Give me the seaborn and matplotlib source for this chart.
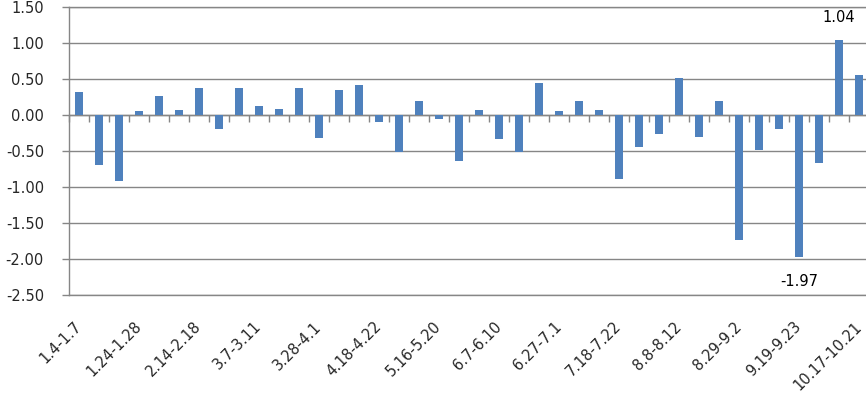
import matplotlib
matplotlib.use("Agg")
import matplotlib.pyplot as plt
import numpy as np
import pandas as pd
import seaborn as sns
from matplotlib.ticker import FormatStrFormatter

# weekly values (40 weeks)
values = [
    0.32, -0.70, -0.92, 0.05, 0.27, 0.07, 0.37, -0.19, 0.37, 0.12,
    0.09, 0.37, -0.32, 0.35, 0.42, -0.10, -0.52, 0.19, -0.05, -0.64,
    0.07, -0.34, -0.52, 0.44, 0.06, 0.19, 0.07, -0.89, -0.45, -0.27,
    0.52, -0.30, 0.20, -1.73, -0.48, -0.19, -1.97, -0.66, 1.04, 0.56,
]
# only every third week carries a label in the reference
tick_pos = [0, 3, 6, 9, 12, 15, 18, 21, 24, 27, 30, 33, 36, 39]
tick_labels = [
    "1.4-1.7", "1.24-1.28", "2.14-2.18", "3.7-3.11", "3.28-4.1",
    "4.18-4.22", "5.16-5.20", "6.7-6.10", "6.27-7.1", "7.18-7.22",
    "8.8-8.12", "8.29-9.2", "9.19-9.23", "10.17-10.21",
]
yticks = [-2.5, -2.0, -1.5, -1.0, -0.5, 0.0, 0.5, 1.0, 1.5]
annotated = [36, 38]  # min and max weeks get a value label

BAR = "#4F81BD"
GRID = "#868686"

sns.set_style("white")
plt.rcParams["font.family"] = ["DejaVu Sans"]
plt.rcParams["axes.unicode_minus"] = False

df = pd.DataFrame({"week": np.arange(len(values)), "value": values})

fig = plt.figure(figsize=(8.66, 3.94), dpi=100)
ax = fig.add_axes([69 / 866, 1 - 295 / 394, 800 / 866, 288 / 394])

sns.barplot(data=df, x="week", y="value", color=BAR, width=0.4,
            saturation=1, linewidth=0, ax=ax, zorder=3)

ax.set_xlim(-0.5, len(values) - 0.5)
ax.set_ylim(-2.5, 1.5)
ax.set_yticks(yticks)
ax.yaxis.set_major_formatter(FormatStrFormatter("%.2f"))
ax.yaxis.grid(True, color=GRID, linewidth=1.0)
ax.set_axisbelow(True)
ax.tick_params(axis="y", direction="out", length=5, width=1.0, color=GRID,
               labelsize=10.5, pad=13, left=True)

ax.set_xticks(tick_pos)
ax.set_xticklabels(tick_labels, rotation=45, ha="right", va="center",
                   rotation_mode="anchor", fontsize=10.5)
ax.tick_params(axis="x", length=0, pad=21)
ax.set_xlabel("")
ax.set_ylabel("")

ax.spines["right"].set_visible(False)
for side in ["left", "top", "bottom"]:
    ax.spines[side].set_color(GRID)
    ax.spines[side].set_linewidth(1.0)

# category axis crossing at zero, with tick marks between the weeks
zero_ax = ax.secondary_xaxis(0, transform=ax.transData)
zero_ax.set_xticks(np.arange(len(values) + 1) - 0.5)
zero_ax.tick_params(direction="out", length=5, width=1.0, color=GRID,
                    labelbottom=False)
zero_ax.spines["bottom"].set_color(GRID)
zero_ax.spines["bottom"].set_linewidth(1.0)

for i in annotated:
    v = values[i]
    ax.annotate(f"{v:.2f}", xy=(i, v),
                xytext=(0, 11 if v > 0 else -12), textcoords="offset points",
                ha="center", va="bottom" if v > 0 else "top",
                fontsize=10.5, color="black")

fig.savefig("out.png", dpi=100)
